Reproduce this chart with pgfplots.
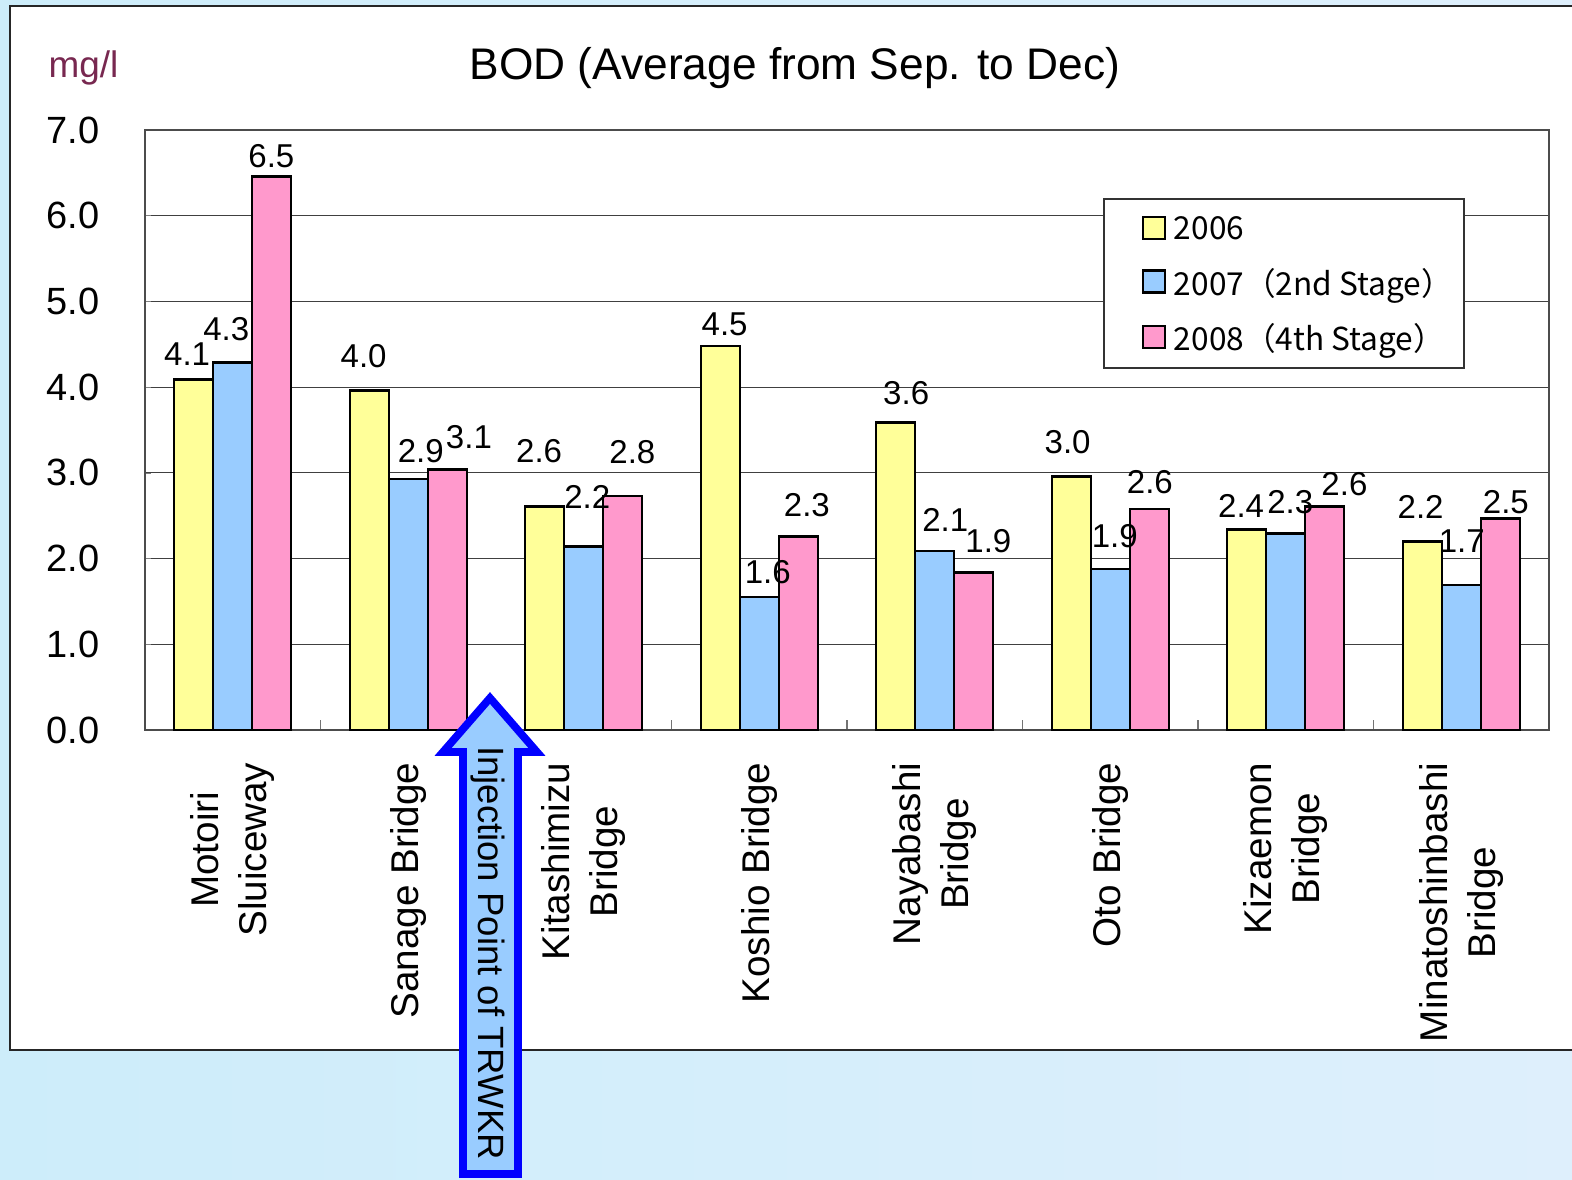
\documentclass[border=0pt]{standalone}
\usepackage{pgfplots}
\pgfplotsset{compat=1.18}
\usepackage{pgfplotstable}
\usepackage{fontspec}
\setmainfont{Liberation Sans}
\newfontfamily\cjk{Noto Sans CJK JP}
\definecolor{cyel}{HTML}{FFFF99}
\definecolor{cblu}{HTML}{99CCFF}
\definecolor{cpnk}{HTML}{FF99CC}
\definecolor{cmg}{RGB}{120,40,80}
\definecolor{arrowblue}{RGB}{0,0,255}
\definecolor{bgL}{RGB}{205,237,250}
\definecolor{bgR}{RGB}{222,239,252}

% x y lab dx dy  (dx, dy: label offset in pixels of the reference)
\pgfplotstableread{
x y lab dx dy
0 4.09 4.1 -6.5 25
1 3.96 4.0 -5.5 34
2 2.61 2.6 -5.5 55
3 4.48 4.5 4.5 22
4 3.59 3.6 10.5 29
5 2.96 3.0 -3.5 34
6 2.34 2.4 -5.5 23
7 2.20 2.2 -1.5 34
}\tabA
\pgfplotstableread{
x y lab dx dy
0 4.29 4.3 -6.5 33
1 2.93 2.9 12.5 28
2 2.14 2.2 3.5 50
3 1.55 1.6 8.5 25
4 2.09 2.1 10.5 31
5 1.88 1.9 4.5 33
6 2.29 2.3 4.5 32
7 1.69 1.7 0.5 44
}\tabB
\pgfplotstableread{
x y lab dx dy
0 6.46 6.5 -0.5 20
1 3.04 3.1 21.5 32
2 2.73 2.8 9.5 44
3 2.26 2.3 8.5 31
4 1.84 1.9 14.5 31
5 2.58 2.6 0.5 27
6 2.61 2.6 19.5 22
7 2.47 2.5 5.5 16
}\tabC

\pgfplotsset{
  lblplot/.style={
    forget plot, only marks, mark=none, draw=none, bar shift=0pt,
    nodes near coords,
    point meta=explicit symbolic,
    every node near coord/.append style={anchor=center, inner sep=0pt, font=\fontsize{9.4}{11}\selectfont, text=black},
  },
}

\begin{document}
\begin{tikzpicture}
\useasboundingbox (0,0) rectangle (15.72,11.80);
\clip (0,0) rectangle (15.72,11.80);
\shade[left color=bgL, right color=bgR] (0,0) rectangle (15.72,11.80);
\draw[fill=white, draw=black!85, line width=0.55pt] (0.10,1.30) rectangle (15.90,11.74);

\node[anchor=base, font=\fontsize{12.6}{15}\selectfont, inner sep=0pt] at (7.95,11.00) {BOD (Average from Sep. to Dec)};
\node[anchor=base west, text=cmg, font=\fontsize{10.5}{12}\selectfont, inner sep=0pt] at (0.48,11.02) {mg/l};

\begin{axis}[
  at={(1.45cm,4.5cm)}, anchor=south west,
  scale only axis, width=14.04cm, height=6cm,
  ybar, bar width=0.39cm,
  xmin=-0.5, xmax=7.5, ymin=0, ymax=7,
  xtick={0,...,7},
  xticklabels={Motoiri\\Sluiceway, Sanage Bridge, Kitashimizu\\Bridge, Koshio Bridge, Nayabashi\\Bridge, Oto Bridge, Kizaemon\\Bridge, Minatoshinbashi\\Bridge},
  minor xtick={0.5,1.5,...,6.5},
  ytick={0,1,...,7},
  xtick pos=bottom, ytick pos=left,
  /pgf/number format/assume math mode=true,
  yticklabel={\pgfmathprintnumber[fixed,fixed zerofill,precision=1]{\tick}},
  tick align=inside,
  major x tick style={draw=none},
  minor x tick style={black!55, line width=0.5pt},
  minor tick length=1mm,
  major tick length=0.6mm,
  ymajorgrids,
  grid style={black!75, line width=0.35pt},
  axis line style={black!70, line width=0.5pt},
  xticklabel style={yshift=-3.2mm, rotate=90, anchor=east, align=center, inner sep=0pt, font=\fontsize{11}{13.7}\selectfont},
  yticklabel style={anchor=east, inner sep=0pt, xshift=-4.5mm, font=\fontsize{10.8}{13}\selectfont},
  legend style={at={(0.6823,0.8867)}, anchor=north west, draw=black!80, line width=0.5pt,
    font=\cjk\fontsize{9}{10}\selectfont, inner xsep=3.8mm, inner ysep=1.1mm, row sep=1.4mm,
    nodes={inner xsep=0pt, text depth=0mm},
    /tikz/every odd column/.append style={column sep=0.8mm}},
  legend cell align=left,
  clip=false,
]
\addplot[fill=cyel, draw=black, line width=0.7pt, bar shift=-0.39cm, forget plot] table[x=x, y=y] {\tabA};
\addplot[fill=cblu, draw=black, line width=0.7pt, bar shift=0cm, forget plot] table[x=x, y=y] {\tabB};
\addplot[fill=cpnk, draw=black, line width=0.7pt, bar shift=0.39cm, forget plot] table[x=x, y=y] {\tabC};
% value labels, offset from the bar tops
\addplot[lblplot] table[x expr=\thisrow{x}-39/175+\thisrow{dx}/175, y expr=\thisrow{y}+\thisrow{dy}/85.714, meta=lab] {\tabA};
\addplot[lblplot] table[x expr=\thisrow{x}+\thisrow{dx}/175, y expr=\thisrow{y}+\thisrow{dy}/85.714, meta=lab] {\tabB};
\addplot[lblplot] table[x expr=\thisrow{x}+39/175+\thisrow{dx}/175, y expr=\thisrow{y}+\thisrow{dy}/85.714, meta=lab] {\tabC};
\addlegendimage{legend image code/.code={\draw[fill=cyel, draw=black, line width=0.6pt] (0mm,-1.1mm) rectangle (2.2mm,1.1mm);}}
\addlegendentry{\makebox[25.2mm][l]{2006}}
\addlegendimage{legend image code/.code={\draw[fill=cblu, draw=black, line width=0.6pt] (0mm,-1.1mm) rectangle (2.2mm,1.1mm);}}
\addlegendentry{\makebox[25.2mm][l]{2007（2nd Stage）}}
\addlegendimage{legend image code/.code={\draw[fill=cpnk, draw=black, line width=0.6pt] (0mm,-1.1mm) rectangle (2.2mm,1.1mm);}}
\addlegendentry{\makebox[25.2mm][l]{2008（4th Stage）}}
\end{axis}

\draw[arrowblue, line width=2.2pt, fill=cblu, line join=miter] (4.63,0.06) -- (4.63,4.28) -- (4.43,4.28) -- (4.90,4.82) -- (5.37,4.28) -- (5.18,4.28) -- (5.18,0.06) -- cycle;
\node[rotate=-90, font=\fontsize{10.4}{12}\selectfont, inner sep=0pt] at (4.88,2.27) {Injection Point of TRWKR};
\end{tikzpicture}
\end{document}
